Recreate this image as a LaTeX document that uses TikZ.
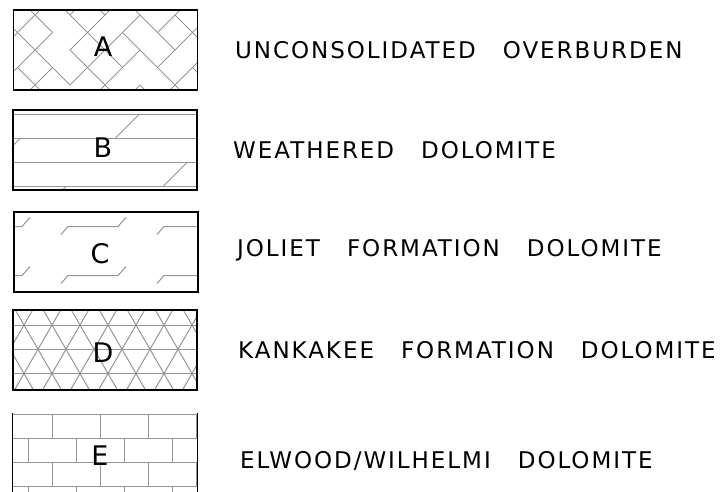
\documentclass[tikz,border=0pt]{standalone}
\usepackage{fontspec}
\setmainfont{DejaVu Sans}
\newfontfamily\cadfont[LetterSpace=8.5]{DejaVu Sans}
\usepackage{tikz}
\usetikzlibrary{backgrounds}
\definecolor{hatchgray}{RGB}{150,150,150}
\newcommand{\gap}{\hspace{27pt}}
\tikzstyle{legendbox} = [rectangle, draw=black, line width=1.4pt, minimum width=184pt, minimum height=80pt, inner sep=0pt]
\tikzstyle{border} = [draw=black, line width=1.4pt]
\tikzstyle{hatch} = [draw=hatchgray, line width=1pt]
\tikzstyle{boxletter} = [anchor=base, inner sep=0pt, font=\fontsize{27}{30}\selectfont]
\tikzstyle{legendtext} = [anchor=base west, inner sep=0pt, font=\cadfont\fontsize{23}{27}\selectfont]

\begin{document}
\begin{tikzpicture}[x=1pt, y=-1pt]
        \useasboundingbox (0,0) rectangle (722,492);

        % Boxes
        \node (boxA) [legendbox] at (105.5,50) {};
        \node (boxB) [legendbox] at (105,150) {};
        \node (boxC) [legendbox] at (106,252) {};
        \node (boxD) [legendbox] at (105,350) {};
        \node (boxE) [legendbox, draw=none, minimum height=78pt] at (105,453) {};
        \draw [border] (boxE.north west) -- (boxE.south west);
        \draw [border] (boxE.north east) -- (boxE.south east);

        % Hatching
        \begin{scope}[on background layer]
            \begin{scope}
                \clip (boxA.south west) rectangle (boxA.north east);
                \foreach \c [count=\i] in {-80,-45,...,200} {
                    \pgfmathsetmacro{\ph}{49.5*\i-14.1}
                    \draw [hatch, dash pattern=on 99pt off 24.75pt, dash phase=\ph pt] (\c,95) -- ++(140,-140);
                }
                \foreach \c [count=\i] in {-80,-45,...,200} {
                    \pgfmathsetmacro{\ph}{74.25*\i+10.65}
                    \draw [hatch, dash pattern=on 99pt off 24.75pt, dash phase=\ph pt] (\c,5) -- ++(140,140);
                }
            \end{scope}
            \begin{scope}
                \clip (boxB.south west) rectangle (boxB.north east);
                \foreach \y in {114.5,138.5,162.5,186.5}
                    \draw [hatch] (13,\y) -- (197,\y);
                \draw [hatch] (115,138.5) -- (139,114.5);
                \draw [hatch] (20,138.5) -- (-4,162.5);
                \draw [hatch] (163,186.5) -- (187,162.5);
                \draw [hatch] (66,186.5) -- (42,210.5);
            \end{scope}
            \begin{scope}
                \clip (boxC.south west) rectangle (boxC.north east);
                \foreach \y in {226.5,275.5}
                    \foreach \s in {-28,68,164}
                        \draw [hatch] (\s-7,\y+8) -- (\s,\y) -- (\s+50,\y) -- (\s+58,\y-9);
            \end{scope}
            \begin{scope}
                \clip (boxD.south west) rectangle (boxD.north east);
                \foreach \y in {325,349.25,373.5}
                    \draw [hatch] (13,\y) -- (197,\y);
                \foreach \k in {-3,...,8} {
                    \draw [hatch] (38+28*\k-40,349.25+69.3) -- (38+28*\k+40,349.25-69.3);
                    \draw [hatch] (38+28*\k-40,349.25-69.3) -- (38+28*\k+40,349.25+69.3);
                }
            \end{scope}
            \begin{scope}
                \clip (boxE.south west) rectangle (boxE.north east);
                \foreach \y in {414,438.5,462.5,486.5}
                    \draw [hatch] (13,\y) -- (197,\y);
                \foreach \y/\o in {414/52,438.5/28,462.5/52,486.5/28}
                    \foreach \x in {0,48,96,144}
                        \draw [hatch] (\o+\x,\y) -- ++(0,24.25);
            \end{scope}
        \end{scope}

        % Letters
        \node (letA) [boxletter] at (103,57) {A};
        \node (letB) [boxletter] at (103,157) {B};
        \node (letC) [boxletter] at (100,263) {C};
        \node (letD) [boxletter] at (103,362) {D};
        \node (letE) [boxletter] at (100,465) {E};

        % Labels
        \node (txtA) [legendtext] at (235,58.5) {UNCONSOLIDATED\gap OVERBURDEN};
        \node (txtB) [legendtext] at (233,158.5) {WEATHERED\gap DOLOMITE};
        \node (txtC) [legendtext] at (237,256) {JOLIET\gap FORMATION\gap DOLOMITE};
        \node (txtD) [legendtext] at (238,358) {KANKAKEE\gap FORMATION\gap DOLOMITE};
        \node (txtE) [legendtext] at (240,468) {ELWOOD/WILHELMI\gap DOLOMITE};
    \end{tikzpicture}
\end{document}
